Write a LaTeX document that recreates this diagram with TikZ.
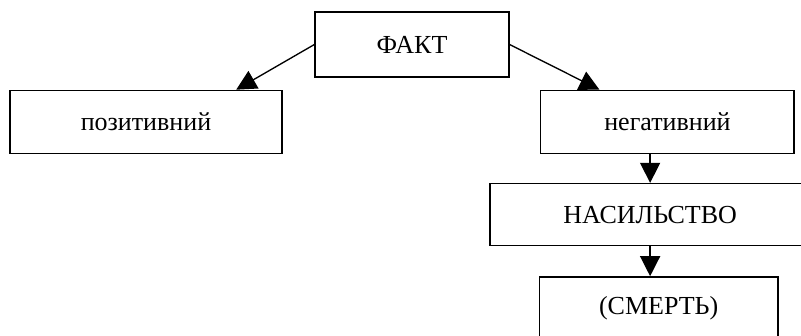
\documentclass[tikz,border=0pt]{standalone}
\usepackage{fontspec}
\setmainfont{Liberation Serif}
\usetikzlibrary{arrows.meta,positioning,calc}
\tikzstyle{recNode} = [rectangle, text centered, draw=black, line width=1pt, font=\fontsize{19.5}{23}\selectfont]
\tikzstyle{arrow} = [line width=1pt,-{Triangle[length=15pt,width=15pt]},draw=black]

\begin{document}
\begin{tikzpicture}[node distance=58pt]
    \useasboundingbox (-309pt,33.4pt) rectangle (291.75pt,-218.6pt);
    \clip (-309pt,33.4pt) rectangle (291.75pt,-218.6pt);
    \node (fact) [recNode, minimum width=145.5pt, minimum height=48.75pt] {ФАКТ};
    \node (pos) [recNode, below of=fact, xshift=-199.5pt, minimum width=204pt, minimum height=47.25pt] {позитивний};
    \node (neg) [recNode, below of=fact, xshift=191.6pt, minimum width=190pt, minimum height=47.25pt] {негативний};
    \node (nasil) [recNode, below of=neg, yshift=-11.5pt, xshift=-13pt, minimum width=240pt, minimum height=46.5pt] {НАСИЛЬСТВО};
    \node (death) [recNode, below of=nasil, yshift=-12pt, xshift=6.4pt, minimum width=179pt, minimum height=46.5pt] {(СМЕРТЬ)};

    \draw [arrow] (fact.west) -- ($(pos.north west)!0.83!(pos.north east)$);
    \draw [arrow] (fact.east) -- ($(neg.north west)!0.233!(neg.north east)$);
    \draw [arrow] (nasil.north |- neg.south) -- (nasil.north);
    \draw [arrow] (nasil.south) -- (nasil.south |- death.north);
\end{tikzpicture}
\end{document}
